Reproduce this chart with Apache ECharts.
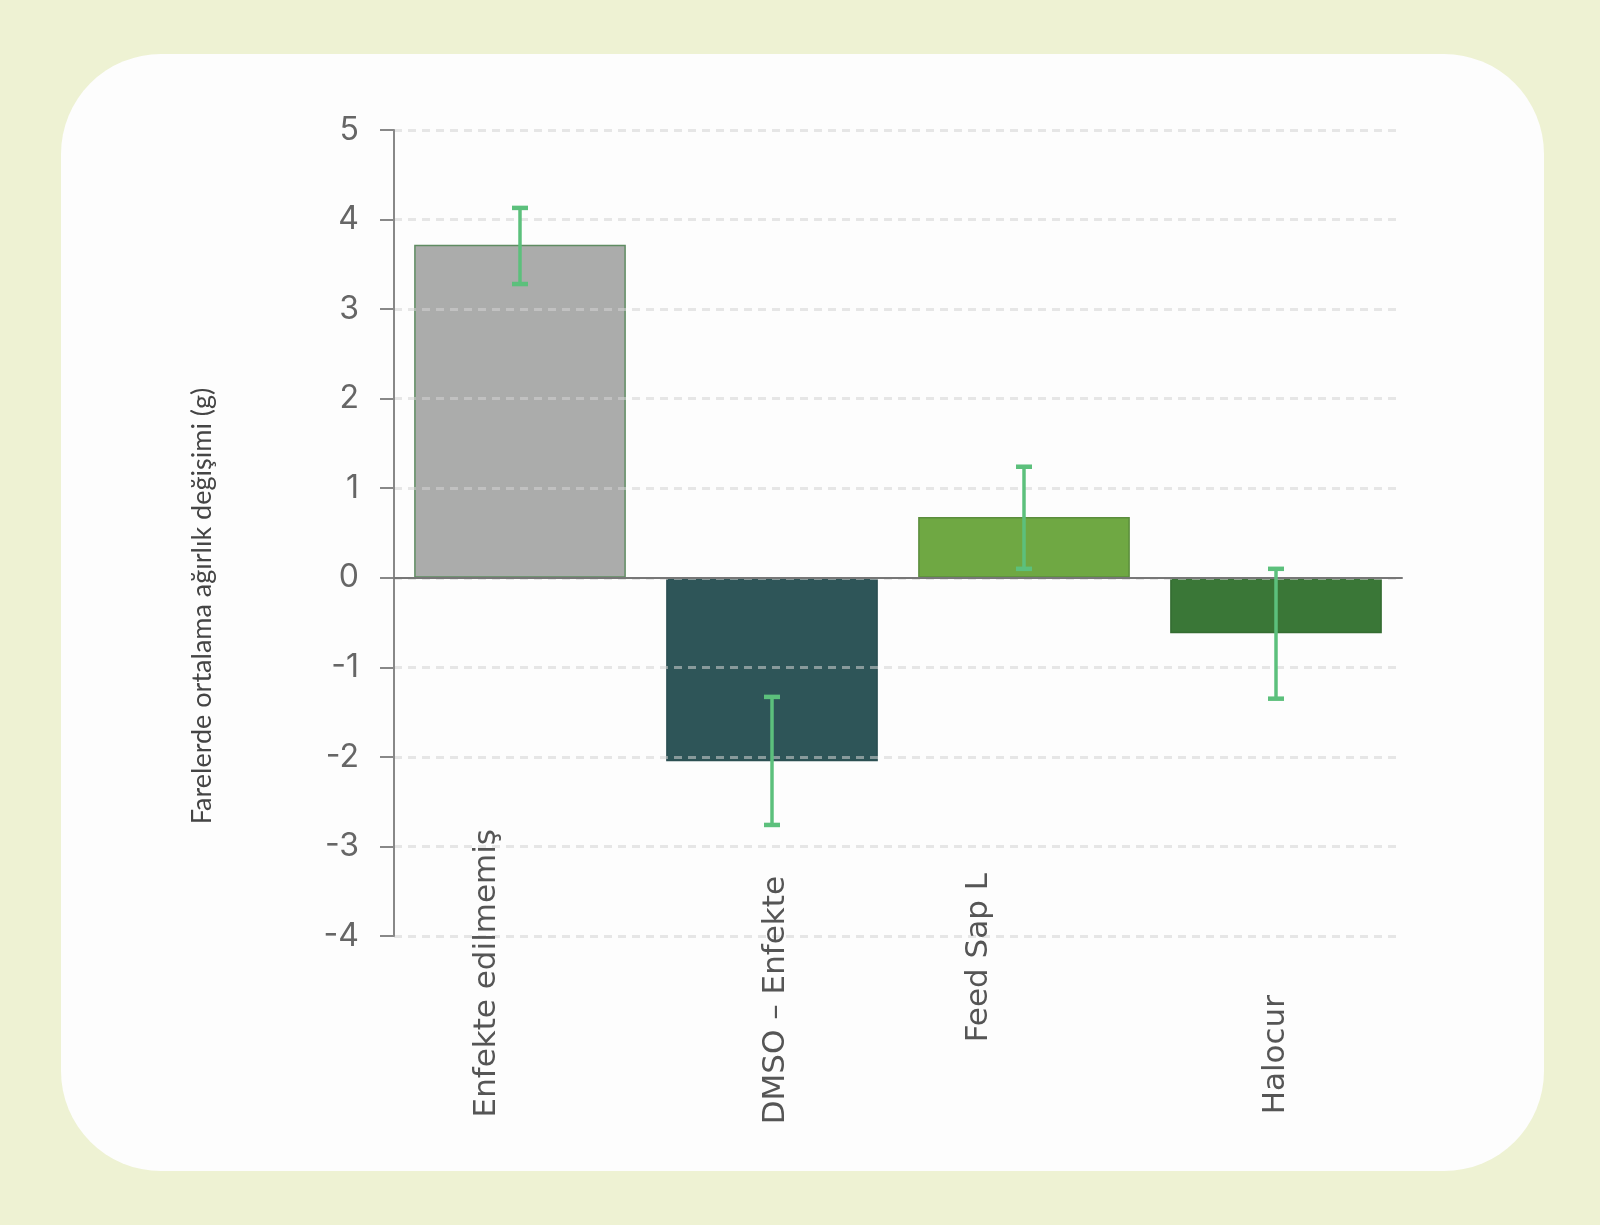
<!DOCTYPE html>
<html>
<head>
<meta charset="utf-8">
<script src="https://cdn.jsdelivr.net/npm/echarts@6/dist/echarts.min.js"></script>
<style>
  html, body { margin: 0; padding: 0; }
  body { width: 1600px; height: 1225px; background: #eef2d3; position: relative; overflow: hidden; }
  #card { position: absolute; left: 61px; top: 54px; width: 1483px; height: 1117px; background: #fdfdfd; border-radius: 100px; }
  #main { position: absolute; left: 0; top: 0; width: 1600px; height: 1225px; }
</style>
</head>
<body>
<div id="card"></div>
<div id="main"></div>
<script>
// groups on the x axis
const categories = ['Enfekte edilmemiş', 'DMSO – Enfekte', 'Feed Sap L', 'Halocur'];
// mean weight change (g)
const meanChange = [3.72, -2.05, 0.68, -0.62];
// error bar ends
const errLow = [3.28, -2.76, 0.10, -1.35];
const errHigh = [4.13, -1.33, 1.24, 0.10];
// y axis range
const yMin = -4, yMax = 5, yStep = 1;

const barColors = ['#abacab', '#2e5558', '#6fa843', '#3a7737'];
const barBorders = ['#5f8c62', '#2b4f52', '#5b8d3d', '#356d32'];
// the labels sit a bit unevenly in the original: push down / sideways
const labelDown = [0, 47, 44, 166];
const labelSide = [['bottom', 66], ['top', 8], ['bottom', 90], ['middle', 31]];

const chart = echarts.init(document.getElementById('main'));

const option = {
  animation: false,
  grid: { left: 394, right: 198, top: 130, bottom: 289, outerBoundsMode: 'none', containLabel: false },
  xAxis: {
    type: 'category',
    z: 4,
    data: categories.map((c, i) => ({
      value: c,
      textStyle: {
        padding: [0, labelDown[i], 0, 0],
        verticalAlign: labelSide[i][0],
        lineHeight: labelSide[i][1]
      }
    })),
    axisLine: { onZero: true, lineStyle: { color: '#777', width: 2 } },
    axisTick: { show: false },
    axisLabel: {
      rotate: 90,
      margin: -107,
      interval: 0,
      fontFamily: 'DejaVu Sans',
      fontSize: 31,
      color: '#555'
    },
    splitLine: { show: false }
  },
  yAxis: {
    type: 'value',
    min: yMin,
    max: yMax,
    interval: yStep,
    z: 3,
    name: 'Farelerde ortalama ağırlık değişimi (g)',
    nameLocation: 'middle',
    nameGap: 178,
    nameTextStyle: { fontFamily: 'Lato', fontSize: 27, color: '#444', padding: [0, 146, 0, 0] },
    axisLine: { show: true, lineStyle: { color: '#888', width: 2 } },
    axisTick: { show: true, length: 14, lineStyle: { color: '#888', width: 2 } },
    axisLabel: { margin: 35, fontFamily: 'Inter', fontSize: 32, color: '#666' },
    splitLine: { show: true, lineStyle: { color: 'rgba(212,212,212,0.55)', width: 3, type: [8, 6] } }
  },
  series: [
    {
      type: 'bar',
      data: meanChange.map((v, i) => ({
        value: v,
        itemStyle: { color: barColors[i], borderColor: barBorders[i], borderWidth: 1.5 }
      })),
      barCategoryGap: '16%',
      z: 2
    },
    {
      type: 'custom',
      z: 5,
      data: categories.map((c, i) => [i, errLow[i], errHigh[i]]),
      renderItem: function (params, api) {
        const lo = api.coord([api.value(0), api.value(1)]);
        const hi = api.coord([api.value(0), api.value(2)]);
        const half = 8;
        const st = { stroke: '#5cc07c', lineWidth: 3.5 };
        return {
          type: 'group',
          children: [
            { type: 'line', shape: { x1: lo[0], y1: lo[1], x2: hi[0], y2: hi[1] }, style: st },
            { type: 'line', shape: { x1: lo[0] - half, y1: lo[1], x2: lo[0] + half, y2: lo[1] }, style: { stroke: '#5cc07c', lineWidth: 4.5 } },
            { type: 'line', shape: { x1: hi[0] - half, y1: hi[1], x2: hi[0] + half, y2: hi[1] }, style: { stroke: '#5cc07c', lineWidth: 4.5 } }
          ]
        };
      }
    }
  ]
};

chart.setOption(option);
</script>
</body>
</html>
